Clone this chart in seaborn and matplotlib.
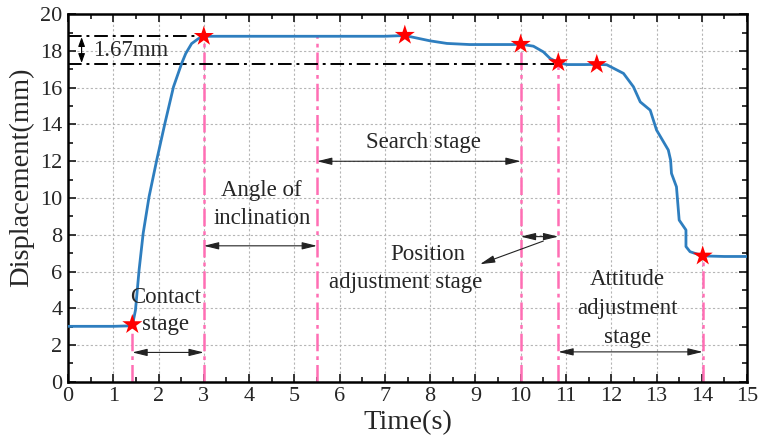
import matplotlib
matplotlib.use("Agg")
import matplotlib.pyplot as plt
import seaborn as sns
import numpy as np
import pandas as pd

# displacement curve
time_s = [0.0, 1.0, 1.42, 1.49, 1.57, 1.66, 1.79, 1.96, 2.14, 2.33, 2.51, 2.60,
          2.73, 2.88, 3.0, 4.0, 5.0, 6.0, 7.0, 7.44, 8.0, 8.37, 8.87, 9.4, 9.83,
          10.0, 10.28, 10.5, 10.65, 10.83, 11.02, 11.4, 11.68, 11.9, 12.27, 12.49,
          12.64, 12.86, 13.0, 13.26, 13.31, 13.33, 13.44, 13.5, 13.55, 13.65, 13.65,
          13.74, 14.02, 14.5, 15.0]
disp_mm = [3.02, 3.02, 3.05, 3.9, 6.09, 8.08, 10.07, 12.07, 14.06, 16.05, 17.32, 17.86,
           18.4, 18.67, 18.8, 18.8, 18.8, 18.8, 18.8, 18.84, 18.55, 18.41, 18.35, 18.35, 18.35,
           18.37, 18.26, 17.95, 17.59, 17.37, 17.26, 17.26, 17.27, 17.25, 16.78, 16.05,
           15.23, 14.78, 13.7, 12.61, 12.07, 11.34, 10.61, 8.8, 8.62, 8.26, 7.36,
           7.08, 6.85, 6.82, 6.82]

# key points (stars)
star_t = [1.42, 3.0, 7.44, 10.0, 10.83, 11.68, 14.02]
star_y = [3.12, 18.8, 18.86, 18.37, 17.37, 17.27, 6.85]

# stage boundaries (pink dash-dot lines) and their top ends
bound_t = [1.42, 3.0, 5.5, 10.0, 10.83, 14.02]
bound_top = [3.1, 18.8, 18.8, 18.37, 17.37, 6.85]

# reference levels for the 1.67mm drop
level_y = [18.8, 17.3]
level_end = [3.0, 10.83]

# stage arrows: start, end, height
arrow_x0 = [1.42, 3.0, 5.5, 10.0, 10.83]
arrow_x1 = [3.0, 5.5, 10.0, 10.83, 14.02]
arrow_y = [1.6, 7.4, 12.0, 7.9, 1.63]

# labels
label_text = ["Contact", "stage", "Angle of", "inclination", "Search stage",
              "Position", "adjustment stage", "Attitude", "adjustment", "stage"]
label_x = [2.15, 2.15, 4.28, 4.28, 7.86, 7.94, 7.45, 12.36, 12.36, 12.36]
label_y = [4.6, 3.1, 10.4, 8.9, 13.0, 6.95, 5.38, 5.55, 3.97, 2.42]

sns.set_style("ticks")
plt.rcParams["font.family"] = ["Liberation Serif", "DejaVu Serif"]

fig, ax = plt.subplots(figsize=(7.6, 4.44), dpi=100)
fig.subplots_adjust(left=0.0895, right=0.983, top=0.968, bottom=0.14)

ax.set_xlim(0, 15)
ax.set_ylim(0, 20)
ax.set_xticks(np.arange(0, 16, 1))
ax.set_yticks(np.arange(0, 21, 2))
ax.set_xticks(np.arange(0, 15.01, 0.5), minor=True)
ax.set_yticks(np.arange(0, 20.01, 1), minor=True)
ax.grid(True, which="major", color="#b5b5b5", linestyle=(0, (2, 2)), linewidth=0.8)
ax.set_axisbelow(True)

# pink stage boundaries
ax.vlines(bound_t, 0, bound_top, colors="#ff6eb4", linestyles=[(0, (7, 2, 1.5, 2))],
          linewidth=1.8, zorder=2)
# black reference levels
ax.hlines(level_y, 0, level_end, colors="black", linestyles=[(0, (7, 2.5, 1.5, 2.5))],
          linewidth=1.4, zorder=2)

df = pd.DataFrame({"t": time_s, "d": disp_mm})
sns.lineplot(data=df, x="t", y="d", ax=ax, sort=False, estimator=None,
             color="#2e7ebf", linewidth=2, zorder=3)
sns.scatterplot(x=star_t, y=star_y, ax=ax, marker="*", s=230, color="red",
                edgecolor="none", zorder=4)

for x0, x1, y in zip(arrow_x0, arrow_x1, arrow_y):
    ax.annotate("", xy=(x0, y), xytext=(x1, y),
                arrowprops=dict(arrowstyle="<|-|>,head_length=0.9,head_width=0.22",
                                color="#222222", lw=0.8, shrinkA=0, shrinkB=0))
# pointer for position adjustment stage
ax.annotate("", xy=(9.1, 6.4), xytext=(10.5, 7.66),
            arrowprops=dict(arrowstyle="-|>,head_length=0.9,head_width=0.22",
                            color="#222222", lw=0.8, shrinkA=0, shrinkB=0))
# 1.67mm marker
ax.annotate("", xy=(0.3, level_y[0] - 0.05), xytext=(0.3, level_y[1] + 0.05),
            arrowprops=dict(arrowstyle="<|-|>,head_length=0.55,head_width=0.2",
                            color="black", lw=0.8, shrinkA=0, shrinkB=0))
ax.text(0.56, 18.04, "1.67mm", fontsize=16.5, ha="left", va="center")

for txt, x, y in zip(label_text, label_x, label_y):
    ax.text(x, y, txt, fontsize=16.5, ha="center", va="center")

ax.set_xlabel("Time(s)", fontsize=20.5, labelpad=3)
ax.set_ylabel("Displacement(mm)", fontsize=20.5)
ax.yaxis.set_label_coords(-0.05, 0.557)
ax.tick_params(which="both", direction="in", top=True, right=True, labelsize=16,
               width=1.3, pad=4)
ax.tick_params(which="major", length=6)
ax.tick_params(which="minor", length=3.5)
for s in ax.spines.values():
    s.set_linewidth(1.8)
    s.set_color("black")

plt.savefig("out.png", dpi=100)
